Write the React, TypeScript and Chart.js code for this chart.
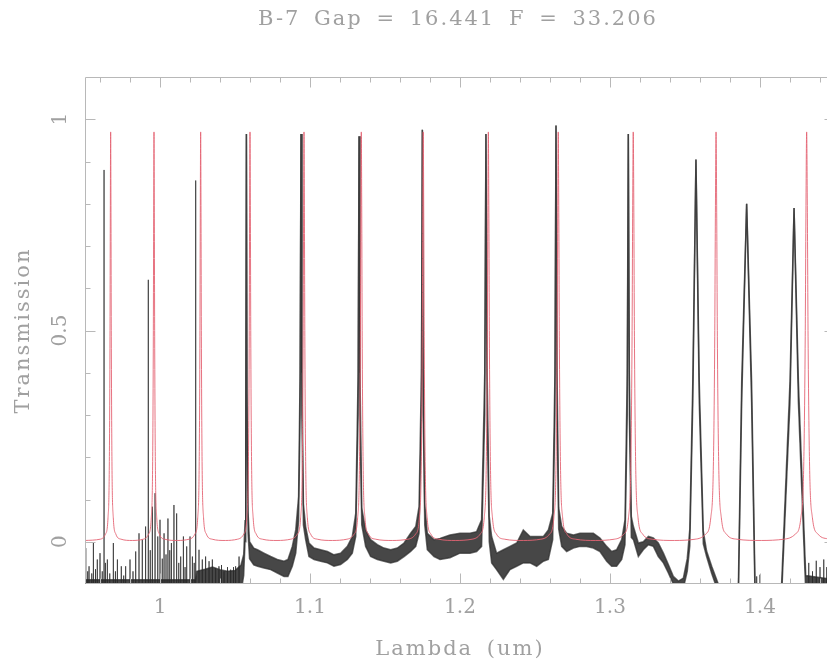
import React, { useEffect, useRef } from "react";
import { Chart, registerables } from "chart.js";

Chart.register(...registerables);

// ---------- text ----------
const TITLE = "B-7 Gap = 16.441 F = 33.206";
const X_TITLE = "Lambda (um)";
const Y_TITLE = "Transmission";

// ---------- axes ----------
const X_MIN = 0.95;
const X_MAX = 1.45;
const Y_MIN = -0.1;
const Y_MAX = 1.1;
const xTickValues = [1, 1.1, 1.2, 1.3, 1.4];
const xTickLabels = ["1", "1.1", "1.2", "1.3", "1.4"];
const xMinorTicks = [0.96, 0.98, 1.02, 1.04, 1.06, 1.08, 1.12, 1.14, 1.16, 1.18, 1.22, 1.24, 1.26, 1.28, 1.32, 1.34, 1.36, 1.38, 1.42, 1.44];
const yTickValues = [0, 0.5, 1];
const yTickLabels = ["0", "0.5", "1"];
const yMinorTicks = [0.1, 0.2, 0.3, 0.4, 0.6, 0.7, 0.8, 0.9];

// ---------- model (red): Fabry-Perot fringes ----------
const modelPeakX = [0.9671, 0.996, 1.0271, 1.06, 1.096, 1.1342, 1.1755, 1.2189, 1.2655, 1.3155, 1.3707, 1.4311];
const modelPeakWidth = [0.00087, 0.0009, 0.00096, 0.00104, 0.00111, 0.0012, 0.00128, 0.00136, 0.00145, 0.00158, 0.00174, 0.0019];
// shape of one fringe: offset in fringe widths -> transmission
const modelProfileOffset = [-8, -4, -2, -1, -0.5, -0.25, 0, 0.25, 0.5, 1, 2, 4, 8];
const modelProfileValue = [0.006, 0.018, 0.058, 0.19, 0.485, 0.78, 0.97, 0.78, 0.485, 0.19, 0.058, 0.018, 0.006];
const modelFloor = 0.003;

// ---------- measured (black) ----------
// isolated spikes of the noisy short-wavelength part (incl. the three first peaks) and tail
const spikeX = [0.9505, 0.9518, 0.9527, 0.9545, 0.9556, 0.957, 0.9582, 0.96, 0.9615, 0.9627, 0.9636, 0.9649, 0.9665, 0.9689, 0.9703, 0.9716, 0.9742, 0.9758, 0.9771, 0.98, 0.982, 0.9838, 0.986, 0.9882, 0.9904, 0.9922, 0.9935, 0.9949, 0.9967, 0.9985, 1.0, 1.0015, 1.0027, 1.004, 1.0053, 1.0065, 1.0076, 1.0093, 1.0111, 1.0125, 1.0138, 1.0156, 1.0167, 1.0178, 1.02, 1.0216, 1.0228, 1.0238, 1.026, 1.0282, 1.0304, 1.0327, 1.0349, 1.0371, 1.0393, 1.041, 1.0427, 1.045, 1.0471, 1.049, 1.0504, 1.0527, 1.3978, 1.4, 1.4325, 1.435, 1.4375, 1.44, 1.4425, 1.4445];
const spikeTop = [-0.015, -0.07, -0.058, -0.075, -0.003, -0.065, -0.042, -0.027, -0.07, 0.88, -0.05, -0.042, -0.075, -0.003, -0.07, -0.042, -0.058, -0.08, -0.058, -0.042, -0.07, -0.023, 0.02, 0.005, 0.036, 0.62, -0.02, 0.083, 0.115, 0.0125, 0.052, -0.04, 0.02, -0.03, 0.055, -0.02, -0.003, 0.087, 0.067, -0.05, -0.035, 0.0125, -0.06, -0.011, 0.0125, -0.035, -0.05, 0.855, -0.019, -0.042, -0.035, -0.046, -0.042, -0.062, -0.058, -0.055, -0.07, -0.06, -0.066, -0.06, -0.058, -0.035, -0.082, -0.078, -0.05, -0.07, -0.045, -0.06, -0.042, -0.06];
const spikeFloor = -0.15;

// noise band of the measured trace: upper and lower edge
const bandX = [0.95, 1.0237, 1.0245, 1.03, 1.035, 1.04, 1.045, 1.05, 1.054, 1.0558, 1.0567, 1.0572, 1.0576, 1.058, 1.0587, 1.0597, 1.0625, 1.065, 1.0693, 1.0738, 1.0782, 1.0827, 1.0853, 1.0882, 1.0905, 1.0924, 1.0934, 1.094, 1.0946, 1.0956, 1.0971, 1.0993, 1.1027, 1.1071, 1.1116, 1.116, 1.1204, 1.1249, 1.1282, 1.1305, 1.1321, 1.1327, 1.1333, 1.1345, 1.1371, 1.1404, 1.1449, 1.1493, 1.1538, 1.1582, 1.1627, 1.1671, 1.1705, 1.1727, 1.1743, 1.1749, 1.1755, 1.1765, 1.1782, 1.1827, 1.1867, 1.1933, 1.2, 1.2067, 1.2111, 1.2144, 1.2165, 1.2173, 1.2181, 1.2195, 1.2211, 1.2244, 1.2289, 1.2333, 1.2378, 1.2422, 1.2467, 1.2511, 1.2556, 1.2589, 1.2618, 1.2633, 1.264, 1.2647, 1.2658, 1.2678, 1.2711, 1.2756, 1.28, 1.2844, 1.2889, 1.2933, 1.2978, 1.3011, 1.3044, 1.3078, 1.31, 1.3115, 1.3122, 1.3129, 1.3142, 1.3156, 1.3189, 1.3222, 1.3256, 1.3289, 1.3322, 1.3356, 1.3389, 1.3422, 1.3456, 1.3489, 1.3515, 1.3532, 1.3552, 1.3573, 1.3595, 1.3622, 1.3644, 1.3678, 1.3722, 1.379, 1.3856, 1.3878, 1.3911, 1.3944, 1.3967, 1.405, 1.4144, 1.42, 1.4227, 1.4256, 1.4305, 1.45];
const bandHi = [-0.09, -0.09, -0.07, -0.065, -0.06, -0.066, -0.07, -0.068, -0.055, -0.03, 0.05, 0.35, 0.965, 0.35, 0.07, 0.0, -0.015, -0.019, -0.027, -0.035, -0.042, -0.046, -0.042, -0.011, 0.028, 0.107, 0.4, 0.965, 0.4, 0.09, 0.036, -0.003, -0.015, -0.019, -0.023, -0.031, -0.027, -0.011, 0.0125, 0.067, 0.4, 0.96, 0.4, 0.08, 0.028, 0.005, -0.007, -0.015, -0.019, -0.015, -0.003, 0.02, 0.036, 0.083, 0.4, 0.975, 0.4, 0.09, 0.02, 0.005, 0.008, 0.016, 0.02, 0.02, 0.024, 0.052, 0.4, 0.965, 0.4, 0.06, 0.0125, -0.027, -0.019, -0.011, -0.003, 0.028, 0.0125, 0.0125, 0.0125, 0.028, 0.067, 0.4, 0.985, 0.4, 0.08, 0.036, 0.02, 0.016, 0.02, 0.02, 0.02, 0.009, -0.011, -0.023, -0.019, 0.005, 0.052, 0.4, 0.965, 0.4, 0.06, 0.036, -0.003, 0.0, 0.0125, 0.009, -0.003, -0.027, -0.054, -0.082, -0.093, -0.086, -0.04, 0.03, 0.38, 0.905, 0.38, 0.025, -0.022, -0.058, -0.1, -0.15, -0.1, 0.38, 0.8, 0.38, -0.1, -0.15, -0.1, 0.38, 0.79, 0.38, -0.08, -0.09];
const bandLo = [-0.13, -0.13, -0.13, -0.13, -0.13, -0.13, -0.13, -0.13, -0.12, -0.08, 0.0, 0.28, 0.965, 0.28, 0.02, -0.04, -0.055, -0.058, -0.062, -0.066, -0.074, -0.082, -0.082, -0.058, -0.027, 0.05, 0.3, 0.965, 0.3, 0.04, 0.005, -0.035, -0.042, -0.046, -0.05, -0.058, -0.054, -0.042, -0.027, 0.0125, 0.3, 0.96, 0.3, 0.04, -0.011, -0.035, -0.042, -0.046, -0.05, -0.046, -0.035, -0.023, -0.011, 0.02, 0.3, 0.975, 0.3, 0.04, -0.019, -0.035, -0.042, -0.038, -0.027, -0.027, -0.023, -0.011, 0.3, 0.965, 0.3, 0.0, -0.05, -0.066, -0.089, -0.066, -0.058, -0.05, -0.05, -0.058, -0.046, -0.042, 0.005, 0.3, 0.985, 0.3, 0.03, -0.011, -0.023, -0.015, -0.011, -0.011, -0.015, -0.023, -0.046, -0.058, -0.058, -0.042, -0.007, 0.3, 0.965, 0.3, 0.01, 0.005, -0.035, -0.019, -0.007, -0.011, -0.035, -0.05, -0.074, -0.1, -0.11, -0.11, -0.07, -0.01, 0.33, 0.905, 0.33, -0.005, -0.035, -0.075, -0.12, -0.15, -0.13, 0.33, 0.8, 0.33, -0.13, -0.15, -0.13, 0.33, 0.79, 0.33, -0.12, -0.13];

// ---------- styles ----------
const FONT = "'DejaVu Serif', serif";
const TEXT_COLOR = "#a0a0a0";
const AXIS_COLOR = "#b8b8b8";
const RED = "rgba(228, 100, 115, 0.9)";
const BLACK_EDGE = "rgba(45, 45, 45, 0.7)";
const BLACK_FILL = "rgba(30, 30, 30, 0.82)";

function buildModel() {
  const pts: { x: number; y: number }[] = [{ x: X_MIN, y: modelFloor }];
  modelPeakX.forEach((px, i) => {
    if (i > 0) pts.push({ x: (modelPeakX[i - 1] + px) / 2, y: modelFloor });
    modelProfileOffset.forEach((u, j) => {
      pts.push({ x: px + u * modelPeakWidth[i], y: modelProfileValue[j] });
    });
  });
  pts.push({ x: X_MAX, y: modelFloor });
  return pts;
}

function buildSpikes() {
  const pts: { x: number; y: number }[] = [];
  spikeX.forEach((x, i) => {
    pts.push({ x, y: spikeFloor }, { x, y: spikeTop[i] }, { x, y: spikeFloor });
  });
  return pts;
}

const framePlugin = {
  id: "frameTicks",
  beforeDraw(chart: any) {
    const ctx = chart.ctx;
    ctx.letterSpacing = "2px";
    ctx.wordSpacing = "5px";
  },
  afterDatasetsDraw(chart: any) {
    const { ctx, chartArea: a } = chart;
    const xs = chart.scales.x;
    const ys = chart.scales.y;
    const L = Math.round(a.left) + 0.5;
    const R = Math.round(a.right) - 0.5;
    const T = Math.round(a.top) + 0.5;
    const B = Math.round(a.bottom) - 0.5;
    ctx.save();
    ctx.strokeStyle = AXIS_COLOR;
    ctx.lineWidth = 1;
    ctx.beginPath();
    ctx.rect(L, T, R - L, B - T);
    const xt = (v: number, len: number) => {
      const p = Math.round(xs.getPixelForValue(v)) + 0.5;
      ctx.moveTo(p, B);
      ctx.lineTo(p, B - len);
      ctx.moveTo(p, T);
      ctx.lineTo(p, T + len);
    };
    const yt = (v: number, len: number) => {
      const p = Math.round(ys.getPixelForValue(v)) + 0.5;
      ctx.moveTo(L, p);
      ctx.lineTo(L + len, p);
      ctx.moveTo(R, p);
      ctx.lineTo(R - len, p);
    };
    xTickValues.forEach((v) => xt(v, 10));
    xMinorTicks.forEach((v) => xt(v, 5));
    yTickValues.forEach((v) => yt(v, 10));
    yMinorTicks.forEach((v) => yt(v, 5));
    ctx.stroke();
    ctx.restore();
    ctx.letterSpacing = "0px";
    ctx.wordSpacing = "0px";
  },
};

export default function App() {
  const ref = useRef<HTMLCanvasElement>(null);

  useEffect(() => {
    if (!ref.current) return;
    const bandPts = (arr: number[]) => bandX.map((x, i) => ({ x, y: arr[i] }));
    const chart = new Chart(ref.current, {
      type: "line",
      data: {
        datasets: [
          {
            label: "model",
            data: buildModel(),
            borderColor: RED,
            borderWidth: 1,
            pointRadius: 0,
            fill: false,
            cubicInterpolationMode: "monotone",
            clip: 0,
          },
          {
            label: "spikes",
            data: buildSpikes(),
            borderColor: "rgba(40, 40, 40, 0.7)",
            borderWidth: 1,
            pointRadius: 0,
            fill: false,
            tension: 0,
            clip: 0,
          },
          {
            label: "measured upper",
            data: bandPts(bandHi),
            borderColor: BLACK_EDGE,
            borderWidth: 1.5,
            pointRadius: 0,
            fill: false,
            tension: 0,
            clip: 0,
          },
          {
            label: "measured lower",
            data: bandPts(bandLo),
            borderColor: BLACK_EDGE,
            backgroundColor: BLACK_FILL,
            borderWidth: 1.5,
            pointRadius: 0,
            fill: "-1",
            tension: 0,
            clip: 0,
          },
        ],
      },
      options: {
        responsive: false,
        maintainAspectRatio: false,
        animation: false,
        devicePixelRatio: 1,
        events: [],
        layout: { padding: 0 },
        plugins: {
          legend: { display: false },
          tooltip: { enabled: false },
          title: {
            display: true,
            text: TITLE,
            color: TEXT_COLOR,
            font: { family: FONT, size: 21, weight: "normal", lineHeight: 1.2 },
            padding: { top: 6.6, bottom: 45.2 },
          },
        },
        scales: {
          x: {
            type: "linear",
            position: "bottom",
            min: X_MIN,
            max: X_MAX,
            afterBuildTicks: (s: any) => {
              s.ticks = xTickValues.map((v) => ({ value: v }));
            },
            afterFit: (s: any) => {
              s.height = 85;
            },
            ticks: {
              callback: (_v: any, i: number) => xTickLabels[i],
              color: TEXT_COLOR,
              font: { family: FONT, size: 20, lineHeight: 1.2 },
              padding: 11.5,
              autoSkip: false,
              maxRotation: 0,
              minRotation: 0,
              z: 1,
            },
            grid: { display: false, drawTicks: false },
            border: { display: false },
            title: {
              display: true,
              text: X_TITLE,
              color: TEXT_COLOR,
              font: { family: FONT, size: 21, lineHeight: 1.2 },
              padding: { top: 0, bottom: 7.2 },
            },
          },
          y: {
            type: "linear",
            position: "left",
            min: Y_MIN,
            max: Y_MAX,
            afterBuildTicks: (s: any) => {
              s.ticks = yTickValues.map((v) => ({ value: v }));
            },
            afterFit: (s: any) => {
              s.width = 85;
            },
            ticks: {
              callback: (_v: any, i: number) => yTickLabels[i],
              color: TEXT_COLOR,
              font: { family: FONT, size: 20, lineHeight: 1.2 },
              padding: 8,
              minRotation: 90,
              maxRotation: 90,
              crossAlign: "center",
              autoSkip: false,
              z: 1,
            },
            grid: { display: false, drawTicks: false },
            border: { display: false },
            title: {
              display: true,
              text: Y_TITLE,
              color: TEXT_COLOR,
              font: { family: FONT, size: 21, lineHeight: 1.2 },
              padding: { top: 11.4, bottom: 0 },
            },
          },
          y2: {
            type: "linear",
            position: "right",
            display: true,
            afterFit: (s: any) => {
              s.width = 81;
            },
            ticks: { display: false },
            grid: { display: false, drawTicks: false },
            border: { display: false },
          },
        },
      },
      plugins: [framePlugin],
    } as any);
    return () => chart.destroy();
  }, []);

  return (
    <div
      style={{
        position: "fixed",
        left: 0,
        top: 0,
        width: 827,
        height: 669,
        overflow: "hidden",
        background: "#ffffff",
      }}
    >
      <canvas ref={ref} width={916} height={669} style={{ display: "block" }} />
    </div>
  );
}
